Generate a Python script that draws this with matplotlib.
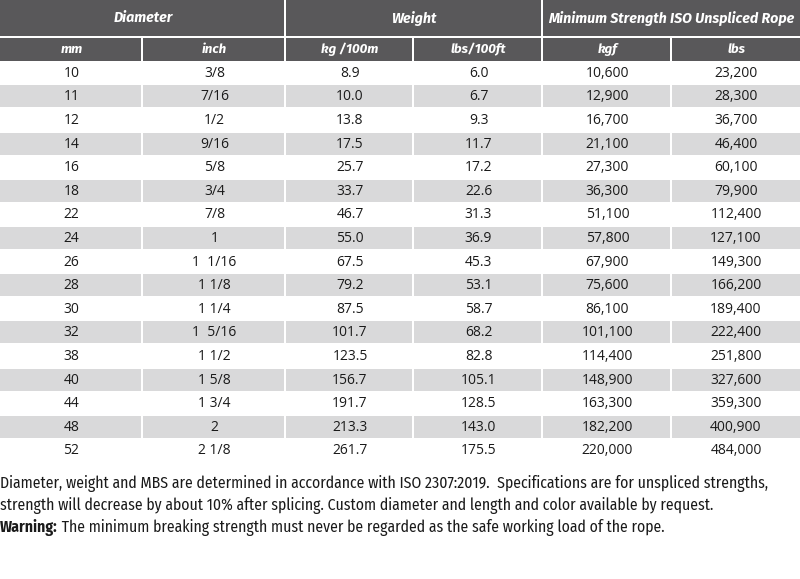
import matplotlib
matplotlib.use('Agg')
import matplotlib.pyplot as plt
from matplotlib.patches import Rectangle

# --- data ---
group_headers = ['Diameter', 'Weight', 'Minimum Strength ISO Unspliced Rope']
group_spans = [2, 2, 2]
col_headers = ['mm', 'inch', 'kg /100m', 'lbs/100ft', 'kgf', 'lbs']

dia_mm = ['10', '11', '12', '14', '16', '18', '22', '24', '26', '28', '30',
          '32', '38', '40', '44', '48', '52']
dia_inch = ['3/8', '7/16', '1/2', '9/16', '5/8', '3/4', '7/8', '1', '1  1/16',
            '1 1/8', '1 1/4', '1  5/16', '1 1/2', '1 5/8', '1 3/4', '2', '2 1/8']
weight_kg = ['8.9', '10.0', '13.8', '17.5', '25.7', '33.7', '46.7', '55.0', '67.5',
             '79.2', '87.5', '101.7', '123.5', '156.7', '191.7', '213.3', '261.7']
weight_lbs = ['6.0', '6.7', '9.3', '11.7', '17.2', '22.6', '31.3', '36.9', '45.3',
              '53.1', '58.7', '68.2', '82.8', '105.1', '128.5', '143.0', '175.5']
mbs_kgf = ['10,600', '12,900', '16,700', '21,100', '27,300', '36,300', '51,100',
           '57,800', '67,900', '75,600', '86,100', '101,100', '114,400', '148,900',
           '163,300', '182,200', '220,000']
mbs_lbs = ['23,200', '28,300', '36,700', '46,400', '60,100', '79,900', '112,400',
           '127,100', '149,300', '166,200', '189,400', '222,400', '251,800', '327,600',
           '359,300', '400,900', '484,000']

notes = [
    'Diameter, weight and MBS are determined in accordance with ISO 2307:2019.  '
    'Specifications are for unspliced strengths,',
    'strength will decrease by about 10% after splicing. Custom diameter and length '
    'and color available by request.',
]
warning_label = 'Warning:'
warning_text = ' The minimum breaking strength must never be regarded as the safe working load of the rope.'

# --- layout (pixels) ---
col_widths = [143, 143, 128, 129, 129, 128]
head1_h = 38
head2_h = 23
row_h = 23.6
header_color = '#59585a'
stripe_color = '#d9d9da'
text_color = '#1a1a1a'
sep = 1.6

cell_font = ['Open Sans', 'DejaVu Sans']
head_font = ['Fira Sans', 'Lato', 'DejaVu Sans']
note_font = ['Fira Sans Condensed', 'Asap Condensed', 'Liberation Sans', 'DejaVu Sans']

fig = plt.figure(figsize=(8, 5.79), dpi=100)
ax = fig.add_axes([0, 0, 1, 1])
ax.set_xlim(0, 800)
ax.set_ylim(579, 0)
ax.axis('off')

col_x = [sum(col_widths[:i]) for i in range(len(col_widths) + 1)]

# header row 1
ci = 0
for name, span in zip(group_headers, group_spans):
    x0, x1 = col_x[ci], col_x[ci + span]
    ax.add_patch(Rectangle((x0, 0), x1 - x0 - (sep if ci + span < 6 else 0), head1_h - sep,
                           color=header_color, lw=0))
    ax.text((x0 + x1) / 2, (head1_h - sep) / 2, name, ha='center', va='center',
            color='white', fontsize=10.3, fontweight='bold', style='italic',
            family=head_font)
    ci += span

# header row 2
for i, name in enumerate(col_headers):
    x0, x1 = col_x[i], col_x[i + 1]
    ax.add_patch(Rectangle((x0, head1_h), x1 - x0 - (sep if i < 5 else 0), head2_h,
                           color=header_color, lw=0))
    ax.text((x0 + x1) / 2, head1_h + head2_h / 2, name, ha='center', va='center',
            color='white', fontsize=9.6, fontweight='bold', style='italic',
            family=head_font)

# data rows
columns = [dia_mm, dia_inch, weight_kg, weight_lbs, mbs_kgf, mbs_lbs]
top = head1_h + head2_h
for r in range(len(dia_mm)):
    y0 = top + r * row_h
    if r % 2 == 1:
        for i in range(6):
            x0, x1 = col_x[i], col_x[i + 1]
            ax.add_patch(Rectangle((x0, y0 + sep / 2), x1 - x0 - (sep if i < 5 else 0),
                                   row_h - sep, color=stripe_color, lw=0))
    for i, col in enumerate(columns):
        ax.text((col_x[i] + col_x[i + 1]) / 2, y0 + row_h / 2 + 0.5, col[r],
                ha='center', va='center', color=text_color, fontsize=10,
                family=cell_font)

# notes
note_y = top + len(dia_mm) * row_h + 21
for k, line in enumerate(notes):
    ax.text(0, note_y + k * 22, line, ha='left', va='center', color=text_color,
            fontsize=11.3, family=note_font)
wy = note_y + len(notes) * 22
t = ax.text(0, wy, warning_label, ha='left', va='center', color=text_color,
            fontsize=11.3, fontweight='bold', family=note_font)
ax.annotate(warning_text, xy=(1, 0.5), xycoords=t, ha='left', va='center',
            color=text_color, fontsize=11.3, family=note_font)

fig.savefig('out.png', dpi=100)
